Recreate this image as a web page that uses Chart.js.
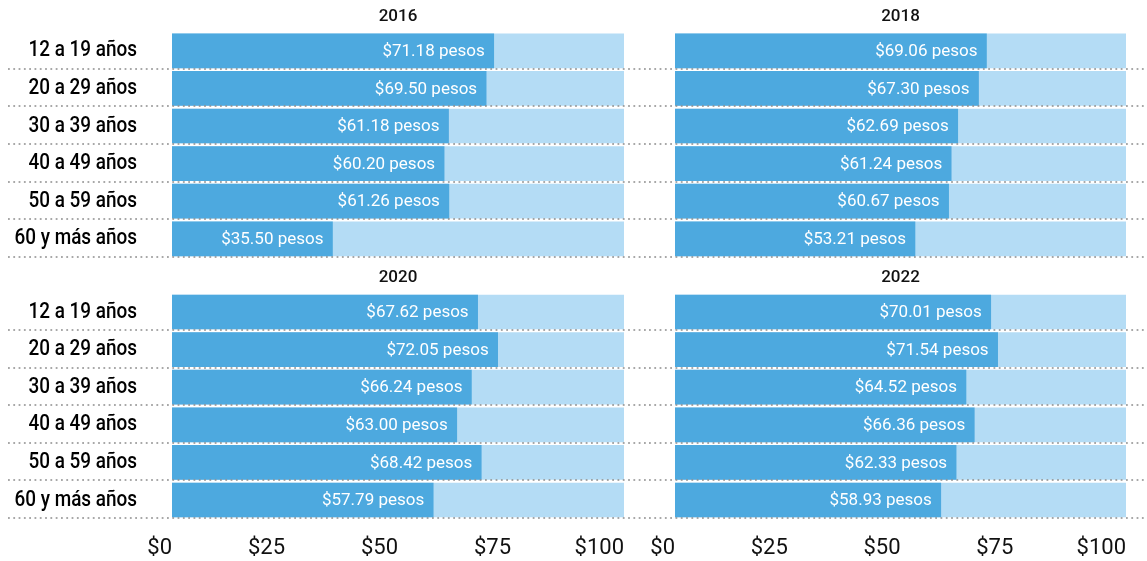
<!DOCTYPE html>
<html>
<head>
<meta charset="utf-8">
<script src="https://cdn.jsdelivr.net/npm/chart.js@4.4.1/dist/chart.umd.min.js"></script>
<style>
  html, body { margin: 0; padding: 0; background: #ffffff; }
  body { width: 1147px; height: 561px; position: relative; overflow: hidden; }
  canvas { position: absolute; }
</style>
</head>
<body>
<canvas id="c2016" width="649" height="260" style="left:0;top:0;"></canvas>
<canvas id="c2018" width="498" height="260" style="left:649px;top:0;"></canvas>
<canvas id="c2020" width="649" height="301" style="left:0;top:260px;"></canvas>
<canvas id="c2022" width="498" height="301" style="left:649px;top:260px;"></canvas>
<script>
// ---- data ----
const categories = ["12 a 19 años", "20 a 29 años", "30 a 39 años", "40 a 49 años", "50 a 59 años", "60 y más años"];
const panelYears = ["2016", "2018", "2020", "2022"];
const values2016 = [71.18, 69.50, 61.18, 60.20, 61.26, 35.50];
const values2018 = [69.06, 67.30, 62.69, 61.24, 60.67, 53.21];
const values2020 = [67.62, 72.05, 66.24, 63.00, 68.42, 57.79];
const values2022 = [70.01, 71.54, 64.52, 66.36, 62.33, 58.93];
const scaleMax = 100;
const tickValues = [0, 25, 50, 75, 100];

// ---- styles ----
const DARK = '#4DA9DF';
const LIGHT = '#B4DCF5';
const BASE_FONT = "'Roboto', 'Noto Sans', sans-serif";

const overlayPlugin = {
  id: 'overlay',
  afterDatasetsDraw(chart, args, opts) {
    const ctx = chart.ctx;
    const meta = chart.getDatasetMeta(0);
    const vals = chart.data.datasets[0].data;
    ctx.save();
    // dotted separators
    ctx.strokeStyle = '#8c8c8c';
    ctx.lineWidth = 1.6;
    ctx.setLineDash([1.8, 3.5]);
    meta.data.forEach((el) => {
      const y = Math.round(el.y + el.height / 2) + 1;
      ctx.beginPath();
      ctx.moveTo(opts.lineStart, y);
      ctx.lineTo(chart.width, y);
      ctx.stroke();
    });
    ctx.setLineDash([]);
    // value labels
    ctx.fillStyle = '#ffffff';
    ctx.font = "17px " + BASE_FONT;
    ctx.textAlign = 'right';
    ctx.textBaseline = 'middle';
    meta.data.forEach((el, i) => {
      ctx.fillText('$' + vals[i].toFixed(2) + ' pesos', el.x - 9, el.y + 1);
    });
    // category labels (condensed), left panels only
    if (opts.showCategories) {
      const yScale = chart.scales.y;
      ctx.fillStyle = '#000000';
      ctx.font = "500 22px " + BASE_FONT;
      ctx.textAlign = 'right';
      chart.data.labels.forEach((lab, i) => {
        const y = yScale.getPixelForValue(i);
        ctx.save();
        ctx.translate(chart.chartArea.left - 35, y);
        ctx.scale(0.86, 1);
        ctx.fillText(lab, 0, 0);
        ctx.restore();
      });
    }
    // panel title
    const ca = chart.chartArea;
    ctx.fillStyle = '#111111';
    ctx.font = "500 17px " + BASE_FONT;
    ctx.textAlign = 'center';
    ctx.fillText(opts.title, (ca.left + ca.right) / 2, ca.top - 15);
    ctx.restore();
  }
};

function makeChart(id, values, year, isLeft, isBottom) {
  const topPad = isBottom ? 33.2 : 32;
  const canvasH = isBottom ? 301 : 260;
  const areaH = 225.6;
  return new Chart(document.getElementById(id), {
    type: 'bar',
    data: {
      labels: categories,
      datasets: [
        { data: values, backgroundColor: DARK, borderWidth: 0, barThickness: 34, grouped: false },
        { data: categories.map(() => scaleMax), backgroundColor: LIGHT, borderWidth: 0, barThickness: 34, grouped: false }
      ]
    },
    plugins: [overlayPlugin],
    options: {
      indexAxis: 'y',
      responsive: false,
      devicePixelRatio: 1,
      animation: false,
      layout: {
        autoPadding: false,
        padding: {
          top: topPad,
          bottom: isBottom ? 0 : canvasH - topPad - areaH,
          left: isLeft ? 172 : 26,
          right: isLeft ? 25 : 21
        }
      },
      plugins: {
        legend: { display: false },
        tooltip: { enabled: false },
        title: { display: false },
        overlay: { title: year, lineStart: isLeft ? 8 : 0, showCategories: isLeft }
      },
      scales: {
        x: {
          type: 'linear',
          min: 0,
          max: scaleMax,
          display: isBottom,
          afterBuildTicks(scale) { scale.ticks = tickValues.map(v => ({ value: v })); },
          afterFit(scale) {
            if (isBottom) scale.height = canvasH - topPad - areaH;
            scale.paddingLeft = 0;
            scale.paddingRight = 0;
          },
          grid: { display: false, drawTicks: false },
          border: { display: false },
          ticks: {
            align: 'end',
            padding: 16,
            maxRotation: 0,
            autoSkip: false,
            color: '#111111',
            font: { family: BASE_FONT, size: 22 },
            callback: (v) => '$' + v
          }
        },
        y: {
          display: false
        }
      }
    }
  });
}

makeChart('c2016', values2016, panelYears[0], true, false);
makeChart('c2018', values2018, panelYears[1], false, false);
makeChart('c2020', values2020, panelYears[2], true, true);
makeChart('c2022', values2022, panelYears[3], false, true);
</script>
</body>
</html>
